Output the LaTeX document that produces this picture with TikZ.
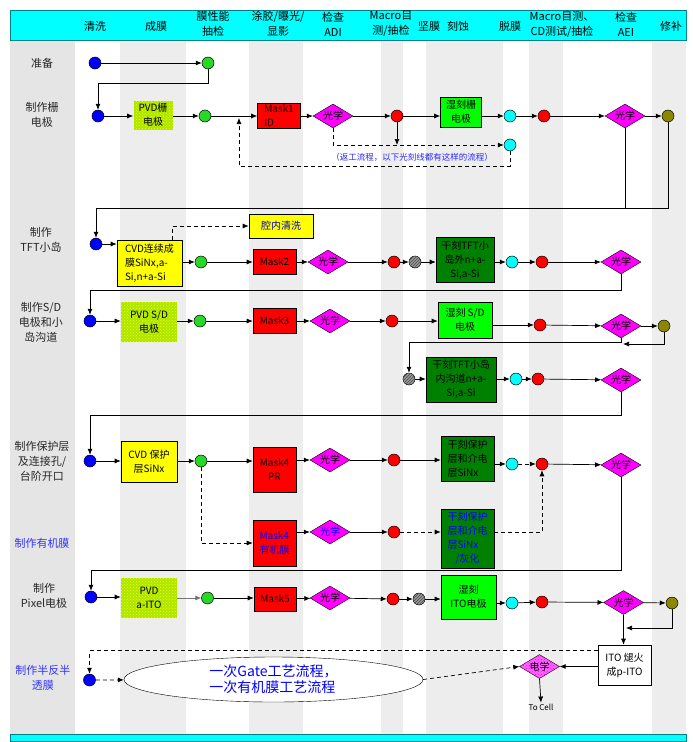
\documentclass[tikz,border=0pt]{standalone}
\usepackage{fontspec}
\setmainfont{Noto Sans CJK SC}
\usetikzlibrary{positioning,arrows.meta,shapes.geometric,patterns,calc}
\definecolor{stripegray}{RGB}{237,237,237}
\definecolor{labelgray}{RGB}{229,229,229}
\definecolor{hdrcyan}{RGB}{0,255,255}
\definecolor{hdrline}{RGB}{0,128,128}
\definecolor{dotcyan}{RGB}{0,255,255}
\definecolor{optmag}{RGB}{255,0,255}
\definecolor{boxyellow}{RGB}{255,255,0}
\definecolor{wetgreen}{RGB}{0,255,0}
\definecolor{drygreen}{RGB}{0,128,0}
\definecolor{dotgreen}{RGB}{40,215,40}
\definecolor{pvdfill}{RGB}{170,230,0}
\definecolor{notecol}{RGB}{40,40,255}
\tikzset{
  pdot/.style     = {circle, draw, minimum size=12pt, inner sep=0pt, line width=0.5pt},
  bluedot/.style  = {pdot, fill=blue},
  greendot/.style = {pdot, fill=dotgreen},
  reddot/.style   = {pdot, fill=red},
  cyandot/.style  = {pdot, fill=dotcyan},
  olivedot/.style = {pdot, fill=olive},
  hatchdot/.style = {pdot, fill=gray!80,
                     postaction={pattern=north east lines, pattern color=black!70}},
  box/.style      = {rectangle, draw, align=center, inner sep=1pt,
                     line width=0.6pt, font=\fontsize{10}{14}\selectfont},
  redbox/.style   = {box, fill=red},
  wetbox/.style   = {box, fill=wetgreen},
  drybox/.style   = {box, fill=drygreen},
  yelbox/.style   = {box, fill=boxyellow},
  pvdbox/.style   = {box, draw=none, fill=pvdfill,
                     postaction={pattern=crosshatch dots, pattern color=boxyellow}},
  optic/.style    = {diamond, draw, fill=optmag, shape aspect=1.7,
                     minimum width=40pt, minimum height=24pt, inner sep=0pt,
                     font=\fontsize{10}{12}\selectfont},
  elec/.style     = {optic, fill=optmag!60!white,
                     postaction={pattern=crosshatch dots, pattern color=optmag}},
  hdr/.style      = {align=center, font=\fontsize{11}{15}\selectfont},
  rowlab/.style   = {align=center, text=black!85, font=\fontsize{11}{15}\selectfont},
  arr/.style      = {-{Latex[length=6pt,width=5pt]}, line width=0.7pt},
  dsh/.style      = {arr, dash pattern=on 4pt off 3pt},
  ln/.style       = {line width=0.7pt}
}
\begin{document}
\begin{tikzpicture}[x=1pt, y=-1pt,
    notetxt/.style = {text=notecol, font=\fontsize{8.5}{10}\selectfont},
    celltxt/.style = {inner sep=1pt, font=\fontsize{8}{10}\selectfont},
    bigell/.style  = {ellipse, draw, fill=white, inner sep=0pt, align=left,
                      text=blue, font=\fontsize{14}{16}\selectfont}
  ]
  \useasboundingbox (0,0) rectangle (693,742);
  \fill[white] (0,0) rectangle (693,742);
  \fill[labelgray] (10,40) rectangle (75,734);
  \foreach \xa/\xb in {120/186,249/303,381/403,426/503,529/563,652/686}
    \fill[stripegray] (\xa,40) rectangle (\xb,734);
  \draw[fill=hdrcyan, draw=hdrline, line width=1pt] (10,10) rectangle (686,40);
  \draw[fill=hdrcyan, draw=hdrline, line width=0.8pt] (10,734) rectangle (686,741);

  \node[hdr] (h1)  at (95,26)  {清洗};
  \node[hdr] (h2)  at (156,26) {成膜};
  \node[hdr] (h3)  at (213,24) {膜性能\\抽检};
  \node[hdr] (h4)  at (278,24) {涂胶/曝光/\\显影};
  \node[hdr] (h5)  at (333,24) {检查\\ADI};
  \node[hdr] (h6)  at (391,24) {Macro目\\测/抽检};
  \node[hdr] (h7)  at (429,26) {坚膜};
  \node[hdr] (h8)  at (458,26) {刻蚀};
  \node[hdr] (h9)  at (510,26) {脱膜};
  \node[hdr] (h10) at (562,24) {Macro目测、\\CD测试/抽检};
  \node[hdr] (h11) at (626,24) {检查\\AEI};
  \node[hdr] (h12) at (671,26) {修补};

  \node[rowlab] (l1) at (42,63)  {准备};
  \node[rowlab] (l2) at (42,115) {制作栅\\电极};
  \node[rowlab] (l3) at (41,240) {制作\\TFT小岛};
  \node[rowlab] (l4) at (41,322) {制作S/D\\电极和小\\岛沟道};
  \node[rowlab] (l5) at (42,461) {制作保护层\\及连接孔/\\台阶开口};
  \node[rowlab, text=blue!80] (l6) at (42,543) {制作有机膜};
  \node[rowlab] (l7) at (44,596) {制作\\Pixel电极};
  \node[rowlab, text=blue!80] (l8) at (43,678) {制作半反半\\透膜};

  \node[bluedot]  (b1) at (95,63)  {};
  \node[greendot] (g1) at (208,63) {};
  \draw[arr] (b1) -- (g1);

  \node[bluedot]  (b2) at (98,116) {};
  \node[pvdbox, minimum width=39pt, minimum height=29pt] (pvd1) at (153,115) {PVD栅\\电极};
  \node[greendot] (g2) at (205,116) {};
  \node[redbox, minimum width=43pt, minimum height=25pt, align=left] (m1) at (279,116) {Mask1\\ID};
  \node[optic]    (d1) at (333,116) {光学};
  \node[reddot]   (r1) at (397,116) {};
  \node[wetbox, minimum width=41pt, minimum height=30pt] (w1) at (461,112) {湿刻栅\\电极};
  \node[cyandot]  (c1) at (510,116) {};
  \node[reddot]   (r2) at (544,116) {};
  \node[optic]    (d2) at (625,116) {光学};
  \node[olivedot] (o1) at (668,116) {};
  \node[cyandot]  (c2) at (510,145) {};
  \node[notetxt]  (rw) at (412,157) {（返工流程，以下光刻线都有这样的流程）};
  \coordinate (back1) at (239,118);
  \coordinate (j2) at (625,208);
  \draw[arr] (g1.south) -- ++(0,14) -| (b2.north);
  \draw[arr] (b2) -- (pvd1.west |- b2);
  \draw[arr] (pvd1.east |- g2) -- (g2);
  \draw[arr] (g2) -- (m1);
  \draw[arr] (m1) -- (d1);
  \draw[arr] (d1) -- (r1);
  \draw[arr] (r1) -- (w1.west |- r1);
  \draw[arr] (w1.east |- c1) -- (c1);
  \draw[arr] (c1) -- (r2);
  \draw[arr] (r2) -- (d2);
  \draw[arr] (d2) -- (o1);
  \draw[dsh] (d1.south) |- (c2.west);
  \draw[arr] (r1.south) -- (r1.south |- c2.west);
  \draw[dsh] (c2.south) -- ++(0,15) -| (back1);
  \draw[ln]  (d2.south) -- (j2);
  \draw[ln]  (o1.south) |- (j2);

  \node[bluedot]  (b3) at (96,244) {};
  \node[yelbox, minimum width=65pt, minimum height=46pt, align=left] (cvd1) at (149.5,263) {CVD连续成\\膜SiNx,a-\\Si,n+a-Si};
  \node[yelbox, minimum width=64pt, minimum height=24pt, text=blue!80!black] (cln) at (281,226) {腔内清洗};
  \node[greendot] (g3) at (201,262) {};
  \node[redbox, minimum width=43pt, minimum height=25pt] (m2) at (274.5,262) {Mask2};
  \node[optic]    (d3) at (328,262) {光学};
  \node[reddot]   (r3) at (394,262) {};
  \node[hatchdot] (k1) at (415,262) {};
  \node[drybox, minimum width=58pt, minimum height=45pt] (dr1) at (465,260) {干刻TFT小\\岛外n+a-\\Si,a-Si};
  \node[cyandot]  (c3) at (512,262) {};
  \node[reddot]   (r4) at (542,262) {};
  \node[optic]    (d4) at (621,262) {光学};
  \draw[arr] (j2) -| (b3.north);
  \draw[arr] (b3) -- (cvd1.west |- b3);
  \draw[dsh] ([xshift=-10pt]cvd1.north east) |- (cln.west);
  \draw[arr] (cvd1.east |- g3) -- (g3);
  \draw[arr] (g3) -- (m2);
  \draw[arr] (m2) -- (d3);
  \draw[arr] (d3) -- (r3);
  \draw[arr] (r3) -- (k1);
  \draw[arr] (k1) -- (dr1.west |- k1);
  \draw[arr] (dr1.east |- c3) -- (c3);
  \draw[arr] (c3) -- (r4);
  \draw[arr] (r4) -- (d4);

  \node[bluedot]  (b4) at (90,321) {};
  \node[pvdbox, minimum width=56pt, minimum height=40pt] (pvd2) at (149,322) {PVD S/D\\电极};
  \node[greendot] (g4) at (200,321) {};
  \node[redbox, minimum width=43pt, minimum height=25pt] (m3) at (274.5,321) {Mask3};
  \node[optic]    (d5) at (330,321) {光学};
  \node[reddot]   (r5) at (392,321) {};
  \node[wetbox, minimum width=54pt, minimum height=36pt] (w2) at (465,320) {湿刻 S/D\\电极};
  \node[reddot]   (r6) at (540,325) {};
  \node[optic]    (d6) at (621,326) {光学};
  \node[olivedot] (o2) at (664,326) {};
  \coordinate (j6) at (623,344);
  \node[hatchdot] (k2) at (409,379) {};
  \node[drybox, minimum width=70pt, minimum height=45pt] (dr2) at (461,379.5) {干刻TFT小岛\\内沟道n+a-\\Si,a-Si};
  \node[cyandot]  (c4) at (516,379) {};
  \node[reddot]   (r7) at (538,379) {};
  \node[optic]    (d7) at (621,380) {光学};
  \draw[arr] (d4.south) -- ++(0,16) -| (b4.north);
  \draw[arr] (b4) -- (pvd2.west |- b4);
  \draw[arr] (pvd2.east |- g4) -- (g4);
  \draw[arr] (g4) -- (m3);
  \draw[arr] (m3) -- (d5);
  \draw[arr] (d5) -- (r5);
  \draw[arr] (r5) -- (w2.west |- r5);
  \draw[arr] (w2.east |- r6) -- (r6);
  \draw[arr] (r6) -- (d6);
  \draw[arr] (d6) -- (o2);
  \draw[arr] (o2.south) |- (j6);
  \draw[arr] (d6.south) -- ++(0,4) -| (k2.north);
  \draw[arr] (k2) -- (dr2.west |- k2);
  \draw[arr] (dr2.east |- c4) -- (c4);
  \draw[arr] (c4) -- (r7);
  \draw[arr] (r7) -- (d7);

  \node[bluedot]  (b5) at (90,461) {};
  \node[yelbox, minimum width=56pt, minimum height=41pt] (cvd2) at (149,461.5) {CVD 保护\\层SiNx};
  \node[greendot] (g5) at (201,461) {};
  \node[redbox, minimum width=43pt, minimum height=45pt] (m4) at (274.5,469.5) {Mask4\\PR};
  \node[optic]    (d8) at (330,460) {光学};
  \node[reddot]   (r8) at (394,460) {};
  \node[drybox, minimum width=53pt, minimum height=45pt, align=left] (dr3) at (467.5,458.5) {干刻保护\\层和介电\\层SiNx};
  \node[cyandot]  (c5) at (512,464) {};
  \node[reddot]   (r9) at (542,464) {};
  \node[optic]    (d9) at (621,465) {光学};
  \draw[arr] (d7.south) -- ++(0,23) -| (b5.north);
  \draw[arr] (b5) -- (cvd2.west |- b5);
  \draw[arr] (cvd2.east |- g5) -- (g5);
  \draw[arr] (g5) -- (m4.west |- g5);
  \draw[arr] (m4.east |- d8) -- (d8);
  \draw[arr] (d8) -- (r8);
  \draw[arr] (r8) -- (dr3.west |- r8);
  \draw[arr] (dr3.east |- c5) -- (c5);
  \draw[dsh] (c5) -- (r9);
  \draw[arr] (r9) -- (d9);

  \node[redbox, minimum width=43pt, minimum height=46pt, text=blue, align=left] (m5) at (274.5,543) {Mask4\\有机膜};
  \node[optic, text=blue] (d10) at (330,532) {光学};
  \node[reddot]   (r10) at (394,532) {};
  \node[drybox, minimum width=53pt, minimum height=59pt, text=blue, align=left] (dr4) at (467.5,538.5) {干刻保护\\层和介电\\层SiNx\\\hspace*{8pt}/灰化};
  \draw[dsh] (g5.south) |- (m5.west);
  \draw[arr] (m5.east |- d10) -- (d10);
  \draw[arr] (d10) -- (r10);
  \draw[dsh] (r10) -- (dr4.west |- r10);
  \draw[dsh] (dr4.east |- r10) -| (r9.south);

  \node[bluedot]  (b7) at (91,597) {};
  \node[pvdbox, minimum width=56pt, minimum height=40pt] (pvd3) at (149,598) {PVD\\a-ITO};
  \node[greendot] (g7) at (207.5,598) {};
  \node[redbox, minimum width=42pt, minimum height=24pt] (m6) at (275,599) {Mask5};
  \node[optic]    (d11) at (330,598) {光学};
  \node[reddot]   (r11) at (393,599) {};
  \node[hatchdot] (k3) at (419,599) {};
  \node[wetbox, minimum width=55pt, minimum height=44pt] (w3) at (468.5,597) {湿刻\\ITO电极};
  \node[cyandot]  (c6) at (512,603) {};
  \node[reddot]   (r12) at (542,602) {};
  \node[optic]    (d12) at (623.5,602.5) {光学};
  \node[olivedot] (o3) at (672,603) {};
  \coordinate (j12) at (626,628);
  \node[box, fill=white, minimum width=53pt, minimum height=40pt] (ito) at (624.5,665) {ITO 煺火\\成p-ITO};
  \node[elec]     (d13) at (539.5,666.5) {电学};
  \node[celltxt]  (cell) at (541,707) {To Cell};
  \draw[arr] (d9.south) -- ++(0,93) -| (b7.north);
  \draw[arr] (b7) -- (pvd3.west |- b7);
  \draw[arr, draw=black!55] (pvd3.east |- g7) -- (g7);
  \draw[arr] (g7) -- (m6.west |- g7);
  \draw[arr] (m6) -- (d11);
  \draw[arr] (d11) -- (r11);
  \draw[arr] (r11) -- (k3);
  \draw[arr] (k3) -- (w3.west |- k3);
  \draw[arr] (w3.east |- c6) -- (c6);
  \draw[arr] (c6) -- (r12);
  \draw[arr] (r12) -- (d12);
  \draw[arr] (d12) -- (o3);
  \draw[arr] (o3.south) |- (j12);
  \draw[arr] (d12.south) -- (d12.south |- ito.north);
  \draw[arr] (ito.west |- d13) -- (d13);
  \draw[arr] (d13.south) -- (cell.north);

  \node[bluedot]  (b8) at (89.5,680) {};
  \node[bigell, minimum width=299pt, minimum height=45pt] (ell) at (273.5,679.5) {一次Gate工艺流程，\\一次有机膜工艺流程};
  \draw[dsh] (b8) -- (ell);
  \draw[dsh] (ell.east) -- (d13.west);
  \draw[dsh] ([yshift=-6pt]ito.north west) -| (b8.north);
\end{tikzpicture}
\end{document}
